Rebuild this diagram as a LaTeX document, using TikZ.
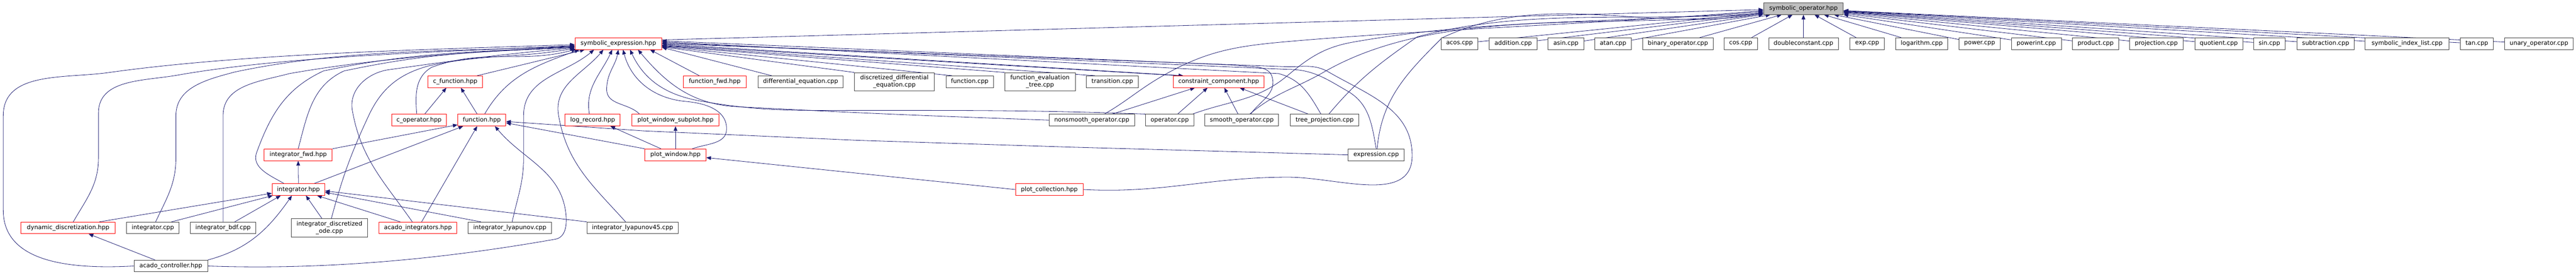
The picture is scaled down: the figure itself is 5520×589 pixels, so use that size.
\documentclass[tikz,border=0pt]{standalone}
\usepackage{fontspec}
\setmainfont{DejaVu Sans}
\usetikzlibrary{arrows.meta}
\definecolor{edgec}{RGB}{25,25,112}
\definecolor{boxgray}{RGB}{64,64,64}
\definecolor{rootfill}{RGB}{191,191,191}
\definecolor{boxred}{RGB}{255,0,0}
\pgfdeclarelayer{bg}
\pgfsetlayers{bg,main}
\begin{document}
\begin{tikzpicture}[x=1pt,y=1.127pt,
  fb/.style={draw=boxgray, fill=white, line width=1pt, inner sep=0pt, minimum height=25pt,
    font=\fontsize{12.9}{15.4}\selectfont, align=center},
  rb/.style={fb, draw=boxred},
  gb/.style={fb, fill=rootfill},
  tb/.style={minimum height=39pt},
  e/.style={draw=edgec, line width=0.9pt, -{Triangle[length=10pt,width=8pt]}},
]
\useasboundingbox (0pt,0pt) rectangle (5520pt,-589pt);
% row 0
\node[gb, minimum width=171pt] (so) at (3864.5,-16.5) {symbolic\_operator.hpp};
% row 1
\node[rb, minimum width=186pt] (se) at (1325,-83) {symbolic\_expression.hpp};
\node[fb, minimum width=79pt] (acos) at (3127.5,-83) {acos.cpp};
\node[fb, minimum width=103pt] (addition) at (3242.5,-83) {addition.cpp};
\node[fb, minimum width=77pt] (asin) at (3355.5,-83) {asin.cpp};
\node[fb, minimum width=79pt] (atan) at (3456.5,-83) {atan.cpp};
\node[fb, minimum width=151pt] (binop) at (3595.5,-83) {binary\_operator.cpp};
\node[fb, minimum width=72pt] (cos) at (3730,-83) {cos.cpp};
\node[fb, minimum width=149pt] (dconst) at (3864.5,-83) {doubleconstant.cpp};
\node[fb, minimum width=74pt] (exp) at (4001,-83) {exp.cpp};
\node[fb, minimum width=112pt] (log) at (4118,-83) {logarithm.cpp};
\node[fb, minimum width=88pt] (power) at (4242,-83) {power.cpp};
\node[fb, minimum width=107pt] (powerint) at (4363.5,-83) {powerint.cpp};
\node[fb, minimum width=99pt] (product) at (4490.5,-83) {product.cpp};
\node[fb, minimum width=115pt] (projection) at (4620.5,-83) {projection.cpp};
\node[fb, minimum width=103pt] (quotient) at (4754.5,-83) {quotient.cpp};
\node[fb, minimum width=68pt] (sin) at (4863,-83) {sin.cpp};
\node[fb, minimum width=123pt] (subtraction) at (4983.5,-83) {subtraction.cpp};
\node[fb, minimum width=180pt] (sil) at (5158,-83) {symbolic\_index\_list.cpp};
\node[fb, minimum width=71pt] (tan) at (5307.5,-83) {tan.cpp};
\node[fb, minimum width=147pt] (unary) at (5440.5,-83) {unary\_operator.cpp};
% row 2
\node[rb, minimum width=117pt] (cfunc) at (975.5,-155.5) {c\_function.hpp};
\node[rb, minimum width=135pt] (ffwd) at (1531.5,-155.5) {function\_fwd.hpp};
\node[fb, minimum width=183pt] (diffeq) at (1715.5,-155.5) {differential\_equation.cpp};
\node[fb, tb, minimum width=171pt] (ddeq) at (1916.5,-155.5) {discretized\_differential\\\_equation.cpp};
\node[fb, minimum width=102pt] (fcpp) at (2078,-155.5) {function.cpp};
\node[fb, tb, minimum width=151pt] (fet) at (2228.5,-155.5) {function\_evaluation\\\_tree.cpp};
\node[fb, minimum width=111pt] (trans) at (2383.5,-155.5) {transition.cpp};
\node[rb, minimum width=195pt] (cc) at (2611.5,-155.5) {constraint\_component.hpp};
% row 3
\node[rb, minimum width=118pt] (cop) at (898,-228.5) {c\_operator.hpp};
\node[rb, minimum width=103pt] (fhpp) at (1032.5,-228.5) {function.hpp};
\node[rb, minimum width=118pt] (logrec) at (1270,-228.5) {log\_record.hpp};
\node[rb, minimum width=187pt] (subplot) at (1447.5,-228.5) {plot\_window\_subplot.hpp};
\node[fb, minimum width=183pt] (nonsmooth) at (2339.5,-228.5) {nonsmooth\_operator.cpp};
\node[fb, minimum width=103pt] (opcpp) at (2506.5,-228.5) {operator.cpp};
\node[fb, minimum width=158pt] (smooth) at (2661,-228.5) {smooth\_operator.cpp};
\node[fb, minimum width=147pt] (treeproj) at (2838.5,-228.5) {tree\_projection.cpp};
% row 4
\node[rb, minimum width=146pt] (ifwd) at (639,-294.5) {integrator\_fwd.hpp};
\node[rb, minimum width=131pt] (pwin) at (1447.5,-294.5) {plot\_window.hpp};
\node[fb, minimum width=120pt] (expr) at (2949,-294.5) {expression.cpp};
% row 5
\node[rb, minimum width=113pt] (ihpp) at (639.5,-360.5) {integrator.hpp};
\node[rb, minimum width=145pt] (pcoll) at (2248.5,-360.5) {plot\_collection.hpp};
% row 6
\node[rb, minimum width=202pt] (dyn) at (146,-433.5) {dynamic\_discretization.hpp};
\node[fb, minimum width=113pt] (icpp) at (327.5,-433.5) {integrator.cpp};
\node[fb, minimum width=140pt] (ibdf) at (478,-433.5) {integrator\_bdf.cpp};
\node[fb, tb, minimum width=164pt] (ido) at (706,-433.5) {integrator\_discretized\\\_ode.cpp};
\node[rb, minimum width=167pt] (aint) at (895.5,-433.5) {acado\_integrators.hpp};
\node[fb, minimum width=179pt] (ilya) at (1092.5,-433.5) {integrator\_lyapunov.cpp};
\node[fb, minimum width=195pt] (ilya45) at (1355.5,-433.5) {integrator\_lyapunov45.cpp};
% row 7
\node[fb, minimum width=158pt] (actrl) at (366,-506) {acado\_controller.hpp};

\begin{pgfonlayer}{bg}
% ---- into symbolic_operator.hpp
\foreach \n in {acos,addition,asin,atan,binop,cos,dconst,exp,log,power,powerint,product,projection,quotient,sin,subtraction,sil,tan,unary}
  \draw[e] (\n) -- (so);
\draw[e] ([yshift=8]se.east) -- ([yshift=-2]so.west);
\draw[e] ([xshift=27]nonsmooth.north) to[out=30,in=-150] (2490,-145) to[out=30,in=185] (2760,-79) to[out=5,in=185,distance=300pt] ([yshift=-4]so.west);
\draw[e] ([xshift=49]opcpp.north) to[out=20,in=-140] (2760,-143) to[out=40,in=190] (2900,-80) to[out=10,in=185,distance=300pt] ([yshift=-6]so.west);
\draw[e] ([xshift=17]smooth.north) to[out=40,in=-150] (2837,-137) to[out=30,in=188,distance=300pt] ([yshift=-8]so.west);
\draw[e] ([xshift=9]treeproj.north) to[out=50,in=-145] (3037,-70) to[out=15,in=185,distance=250pt] ([yshift=-9]so.west);
\draw[e] ([xshift=2]expr.north) to[out=85,in=-135] (3090,-72) to[out=25,in=190,distance=250pt] ([yshift=-10]so.west);
% ---- into symbolic_expression.hpp (left)
\draw[e] (actrl.west) to[out=183,in=-90] (7,-400) -- (7,-220) to[out=90,in=188] (233,-138) to[out=8,in=182,distance=300pt] ([yshift=-2]se.west);
\draw[e] ([xshift=11]dyn.north) to[out=60,in=-90] (211,-300) -- (211,-215) to[out=90,in=190] (380,-143) to[out=10,in=183,distance=250pt] ([yshift=-4]se.west);
\draw[e] ([xshift=6]icpp.north) to[out=65,in=-90] (377,-300) -- (377,-220) to[out=90,in=195] (503,-137) to[out=12,in=183,distance=250pt] ([yshift=-5]se.west);
\draw[e] (ibdf.north) -- (478,-220) to[out=90,in=195] (620,-140) to[out=10,in=183,distance=200pt] ([yshift=-6]se.west);
\draw[e] ([xshift=-31]ihpp.north) to[out=150,in=-110] (550,-290) to[out=70,in=205] (693,-135) to[out=12,in=183,distance=200pt] ([yshift=-7]se.west);
\draw[e] (ifwd.north) to[out=75,in=205] (737,-135) to[out=12,in=183,distance=200pt] ([yshift=-8]se.west);
\draw[e] ([xshift=4]ido.north) to[out=75,in=-115] (790,-220) to[out=65,in=195] (920,-125) to[out=12,in=190] ([yshift=-10]se.west);
\draw[e] ([xshift=-12]aint.north) to[out=125,in=-80] (755,-210) to[out=100,in=190] (830,-133) to[out=8,in=185] ([yshift=-9]se.west);
\draw[e] ([xshift=-5]cop.north) to[out=95,in=210] (925,-128) to[out=20,in=195] ([xshift=3,yshift=1]se.south west);
\draw[e] ([xshift=47]cfunc.north) -- ([xshift=-72]se.south);
\draw[e] ([xshift=6]fhpp.north) to[out=60,in=200] ([xshift=10]se.south west);
% ---- into symbolic_expression.hpp (bottom)
\draw[e] ([xshift=5]ilya.north) to[out=78,in=-90] (1122,-300) -- (1122,-220) to[out=90,in=-140] ([xshift=-52]se.south);
\draw[e] ([xshift=-15]ilya45.north) to[out=132,in=-80] (1197,-220) to[out=100,in=-130] ([xshift=-32]se.south);
\draw[e] ([xshift=-7]logrec.north) to[out=100,in=-115] ([xshift=-13]se.south);
\draw[e] ([xshift=-77]subplot.north) to[out=135,in=-90] (1300,-170) to[out=90,in=-100] (se.south);
\draw[e] ([xshift=36]pwin.north) to[out=20,in=-90] (1557,-245) to[out=90,in=-5] (1470,-193) to[out=175,in=-75] ([xshift=10]se.south);
\draw[e] ([xshift=-51]opcpp.north) to[out=178,in=0] (1840,-210) to[out=180,in=-10] (1500,-192) to[out=170,in=-65] ([xshift=25]se.south);
\draw[e] (nonsmooth.west) to[out=178,in=-3] (1580,-203) to[out=177,in=-50] ([xshift=42]se.south);
\draw[e] ([xshift=-33]ffwd.north) -- ([xshift=68]se.south);
% ---- into symbolic_expression.hpp (right)
\draw[e] ([xshift=-62]diffeq.north) -- ([yshift=-8]se.east);
\draw[e] (ddeq.north west) -- ([yshift=-7]se.east);
\draw[e] ([xshift=-38]fcpp.north) -- ([yshift=-6]se.east);
\draw[e] (fet.north west) -- ([yshift=-5]se.east);
\draw[e] ([xshift=-37]trans.north) -- ([yshift=-4]se.east);
\draw[e] ([xshift=13]cc.north west) -- ([yshift=-3]se.east);
\draw[e] ([yshift=-1]se.east) -- ([xshift=22]cc.north west);
\draw[e] ([xshift=19]smooth.north) to[out=55,in=-80] (2727,-150) to[out=100,in=-10] (2650,-124) -- ([yshift=6]se.east);
\draw[e] ([xshift=-8]treeproj.north) to[out=120,in=-15] (2740,-140) -- ([yshift=4]se.east);
\draw[e] (expr.north) to[out=100,in=-30] (2887,-173) to[out=150,in=0] (2760,-132) -- ([yshift=2]se.east);
\draw[e] (pcoll.east) to[out=-3,in=180] (2760,-337) to[out=0,in=-90] (3026,-296) to[out=90,in=-30] (2847,-137) to[out=150,in=0] (2760,-127) -- ([yshift=0]se.east);
% ---- into constraint_component.hpp
\draw[e] ([xshift=44]nonsmooth.north) -- ([xshift=-51]cc.south);
\draw[e] ([xshift=17]opcpp.north) -- ([xshift=-24]cc.south);
\draw[e] ([xshift=-8]smooth.north) -- ([xshift=12]cc.south);
\draw[e] ([xshift=-35]treeproj.north) -- ([xshift=45]cc.south);
% ---- into c_function.hpp
\draw[e] ([xshift=12]cop.north) -- ([xshift=-19]cfunc.south);
\draw[e] ([xshift=-10]fhpp.north) -- ([xshift=12]cfunc.south);
% ---- into function.hpp
\draw[e] (ifwd.north east) -- ([yshift=-10]fhpp.west);
\draw[e] ([xshift=34]ihpp.north) -- ([xshift=-40]fhpp.south);
\draw[e] ([xshift=8]aint.north) -- ([xshift=-10]fhpp.south);
\draw[e] (actrl.east) to[out=-2,in=-170,distance=250pt] (1190,-455) to[out=10,in=-85] (1213,-410) to[out=95,in=-50] ([xshift=28]fhpp.south);
\draw[e] (expr.west) -- (2300,-280) -- (1840,-267) -- (1380,-249) -- ([yshift=-3]fhpp.east);
\draw[e] (pwin.north west) -- ([yshift=-6]fhpp.east);
% ---- plot window family
\draw[e] ([xshift=-31]pwin.north) -- ([xshift=38]logrec.south);
\draw[e] (pwin.north) -- (subplot.south);
\draw[e] (pcoll.west) -- ([yshift=-6]pwin.east);
% ---- into integrator.hpp / integrator_fwd.hpp
\draw[e] (ihpp.north) -- (ifwd.south);
\draw[e] ([xshift=67]dyn.north) -- ([yshift=-8]ihpp.west);
\draw[e] ([xshift=40]icpp.north) -- ([xshift=2]ihpp.south west);
\draw[e] ([xshift=25]ibdf.north) -- ([xshift=-38]ihpp.south);
\draw[e] (actrl.north east) to[out=15,in=-125] ([xshift=-14]ihpp.south);
\draw[e] ([xshift=-16]ido.north) -- ([xshift=16]ihpp.south);
\draw[e] ([xshift=-38]aint.north) -- ([xshift=40]ihpp.south);
\draw[e] ([xshift=-62]ilya.north) -- ([yshift=-6]ihpp.east);
\draw[e] (ilya45.north west) -- ([yshift=-3]ihpp.east);
% ---- into dynamic_discretization.hpp
\draw[e] ([xshift=-34]actrl.north) -- ([xshift=44]dyn.south);
\end{pgfonlayer}
\end{tikzpicture}
\end{document}
